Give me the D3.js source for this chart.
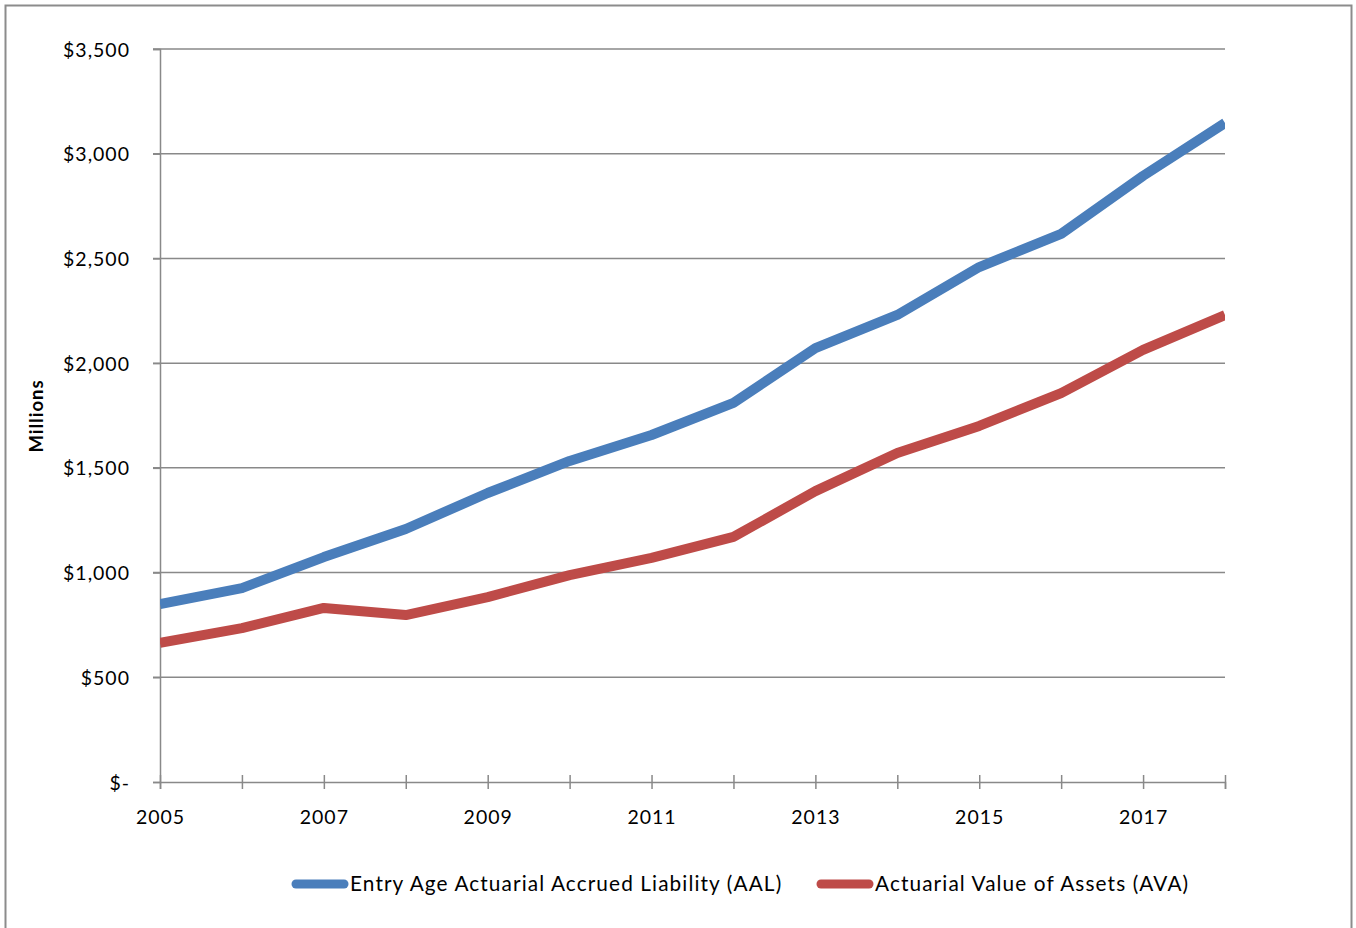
<!DOCTYPE html>
<html><head><meta charset="utf-8">
<script src="https://cdn.jsdelivr.net/npm/d3@7"></script>
<style>body{margin:0;background:#fff;} svg{display:block;}</style>
</head><body>
<svg id="chart" width="1356" height="928"></svg>
<script>
const years = [2005,2006,2007,2008,2009,2010,2011,2012,2013,2014,2015,2016,2017,2018];
const aal = [850,926,1074,1208,1380,1533,1657,1810,2072,2230,2459,2617,2894,3147];
const ava = [664,735,831,797,883,988,1070,1170,1389,1571,1700,1857,2063,2230];
const yTicks = [0,500,1000,1500,2000,2500,3000,3500];
const xLabelYears = [2005,2007,2009,2011,2013,2015,2017];
const seriesNames = ["Entry Age Actuarial Accrued Liability (AAL)","Actuarial Value of Assets (AVA)"];
const seriesColors = ["#4a7ebb","#be4b48"];

(function(){
const svg = d3.select("#chart");
const font = "Lato, 'Open Sans', sans-serif";
const pLeft = 160, pRight = 1225, pTop = 49, pBottom = 782;

svg.append("rect").attr("x",5.5).attr("y",5.5).attr("width",1346).attr("height",930)
  .attr("fill","#fff").attr("stroke","#8c8c8c").attr("stroke-width",2);

const x = d3.scaleLinear().domain([2005,2018]).range([pLeft,pRight]);
const y = d3.scaleLinear().domain([0,3500]).range([pBottom,pTop]);

// gridlines
svg.append("g").selectAll("line").data(yTicks.filter(d=>d>0)).join("line")
  .attr("x1",pLeft-7).attr("x2",pRight).attr("y1",d=>y(d)).attr("y2",d=>y(d))
  .attr("stroke","#898989").attr("stroke-width",1.5);

// y axis
const yAxis = d3.axisLeft(y).tickValues(yTicks).tickSize(7).tickPadding(23)
  .tickFormat(d => d===0 ? "$-" : "$" + d3.format(",")(d));
const gy = svg.append("g").attr("transform",`translate(${pLeft},0)`).call(yAxis);
gy.select(".domain").attr("stroke","#898989").attr("stroke-width",1.5);
gy.selectAll(".tick line").attr("stroke","#898989").attr("stroke-width",1.5);
gy.selectAll("text").attr("font-family",font).attr("font-size",19.5)
  .attr("letter-spacing","1px").attr("fill","#000").attr("dy","0.36em");

// x axis
const xAxis = d3.axisBottom(x).tickValues(years).tickSize(7).tickPadding(21)
  .tickFormat(d => xLabelYears.includes(d) ? String(d) : "");
const gx = svg.append("g").attr("transform",`translate(0,${pBottom})`).call(xAxis);
gx.select(".domain").attr("stroke","#898989").attr("stroke-width",1.5);
gx.selectAll(".tick line").attr("stroke","#898989").attr("stroke-width",1.5).attr("y1",-7);
gx.selectAll("text").attr("font-family",font).attr("font-size",19.5)
  .attr("letter-spacing","1px").attr("fill","#000");

// y axis title
svg.append("text").attr("transform","translate(43,416) rotate(-90)")
  .attr("text-anchor","middle").attr("font-family",font).attr("font-weight","bold")
  .attr("font-size",18.5).attr("letter-spacing","1px").text("Millions");

// clip
svg.append("clipPath").attr("id","plotclip").append("rect")
  .attr("x",pLeft).attr("y",0).attr("width",pRight-pLeft).attr("height",928);

const line = d3.line().x((d,i)=>x(years[i])).y(d=>y(d));
[aal,ava].forEach((s,k)=>{
  svg.append("path").datum(s).attr("d",line).attr("fill","none")
    .attr("stroke",seriesColors[k]).attr("stroke-width",10)
    .attr("stroke-linejoin","round").attr("clip-path","url(#plotclip)");
});

// legend
const legendX = [296, 821];
seriesNames.forEach((n,k)=>{
  const g = svg.append("g").attr("transform",`translate(${legendX[k]},884)`);
  g.append("line").attr("x1",0).attr("x2",48).attr("y1",0).attr("y2",0)
    .attr("stroke",seriesColors[k]).attr("stroke-width",9).attr("stroke-linecap","round");
  g.append("text").attr("x",54).attr("y",7).attr("font-family",font).attr("font-size",20.8)
    .attr("letter-spacing","1.1px").attr("fill","#000").text(n);
});
})();
</script>
</body></html>
